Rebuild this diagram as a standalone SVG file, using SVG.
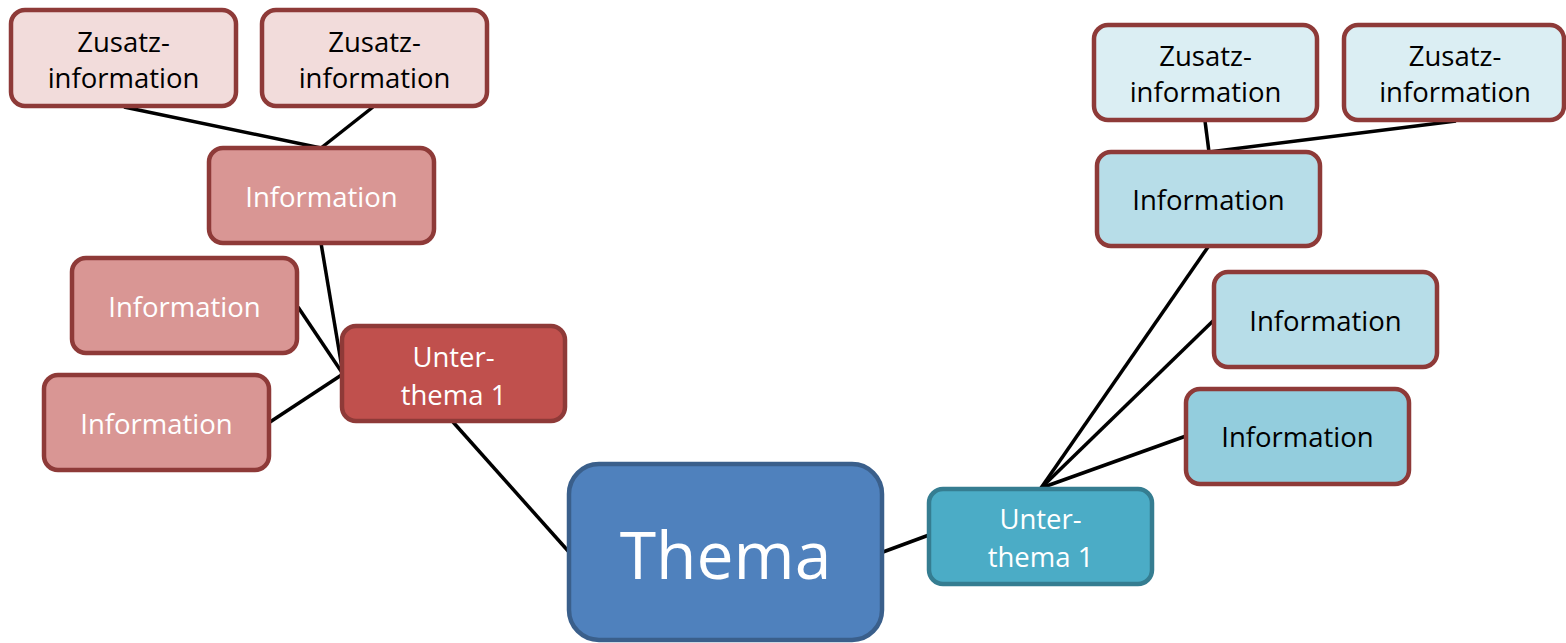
<svg xmlns="http://www.w3.org/2000/svg" width="1566" height="643" viewBox="0 0 1566 643">
<style>
  rect { stroke-width: 4.5; }
  .red { stroke: #8e3a38; }
  .zl { fill: #f2dcdb; }
  .il { fill: #d99694; }
  .ul { fill: #c0504d; }
  .zr { fill: #dbeef3; }
  .ir { fill: #b7dde8; }
  .ir2 { fill: #93cddd; }
  .ur { fill: #4bacc6; stroke: #357d91; }
  .th { fill: #4f81bd; stroke: #3a5f8b; }
  text { font-family: "Open Sans", "Noto Sans", "Liberation Sans", sans-serif; font-size: 27.5px; text-anchor: middle; }
  .w { fill: #ffffff; }
  .b { fill: #000000; }
  .conn line { stroke: #000000; stroke-width: 3.5; stroke-linecap: butt; }
</style>
<rect width="1566" height="643" fill="#ffffff" style="stroke:none"/>
<g class="conn" id="connectors">
  <line x1="124" y1="107" x2="321" y2="148"/>
  <line x1="373" y1="107" x2="321" y2="148"/>
  <line x1="321" y1="243" x2="343" y2="374"/>
  <line x1="298" y1="307" x2="343" y2="374"/>
  <line x1="270" y1="422" x2="343" y2="374"/>
  <line x1="453" y1="422" x2="569" y2="552"/>
  <line x1="883" y1="552" x2="929" y2="535"/>
  <line x1="1041" y1="488" x2="1208" y2="247"/>
  <line x1="1041" y1="488" x2="1214" y2="320"/>
  <line x1="1041" y1="488" x2="1186" y2="436"/>
  <line x1="1205" y1="121" x2="1209" y2="152"/>
  <line x1="1456" y1="121" x2="1209" y2="152"/>
</g>
<g id="zusatz-l1">
  <rect class="zl red" x="11" y="10" width="225" height="96" rx="14"/>
  <text class="b" x="123.5" y="52">Zusatz-</text>
  <text class="b" x="123.5" y="88">information</text>
</g>
<g id="zusatz-l2">
  <rect class="zl red" x="262" y="10" width="225" height="96" rx="14"/>
  <text class="b" x="374.5" y="52">Zusatz-</text>
  <text class="b" x="374.5" y="88">information</text>
</g>
<g id="info-l1">
  <rect class="il red" x="209" y="148" width="225" height="95" rx="14"/>
  <text class="w" x="321.5" y="207">Information</text>
</g>
<g id="info-l2">
  <rect class="il red" x="72" y="258" width="225" height="95" rx="14"/>
  <text class="w" x="184.5" y="317">Information</text>
</g>
<g id="info-l3">
  <rect class="il red" x="44" y="375" width="225" height="95" rx="14"/>
  <text class="w" x="156.5" y="434">Information</text>
</g>
<g id="unterthema-l">
  <rect class="ul red" x="342" y="326" width="223" height="95" rx="14"/>
  <text class="w" x="453.5" y="367">Unter-</text>
  <text class="w" x="453.5" y="405">thema 1</text>
</g>
<g id="thema">
  <rect class="th" x="569" y="464" width="313" height="176" rx="30"/>
  <text class="w" x="725.5" y="579" style="font-size:66px">Thema</text>
</g>
<g id="unterthema-r">
  <rect class="ur" x="929" y="489" width="223" height="95" rx="14"/>
  <text class="w" x="1040.5" y="529">Unter-</text>
  <text class="w" x="1040.5" y="567">thema 1</text>
</g>
<g id="info-r3">
  <rect class="ir2 red" x="1186" y="389" width="223" height="95" rx="14"/>
  <text class="b" x="1297.5" y="447">Information</text>
</g>
<g id="info-r2">
  <rect class="ir red" x="1214" y="272" width="223" height="95" rx="14"/>
  <text class="b" x="1325.5" y="331">Information</text>
</g>
<g id="info-r1">
  <rect class="ir red" x="1097" y="152" width="223" height="94" rx="14"/>
  <text class="b" x="1208.5" y="210">Information</text>
</g>
<g id="zusatz-r1">
  <rect class="zr red" x="1094" y="25" width="223" height="95" rx="14"/>
  <text class="b" x="1205.5" y="66">Zusatz-</text>
  <text class="b" x="1205.5" y="102">information</text>
</g>
<g id="zusatz-r2">
  <rect class="zr red" x="1344" y="25" width="220" height="95" rx="14"/>
  <text class="b" x="1455" y="66">Zusatz-</text>
  <text class="b" x="1455" y="102">information</text>
</g>
</svg>
